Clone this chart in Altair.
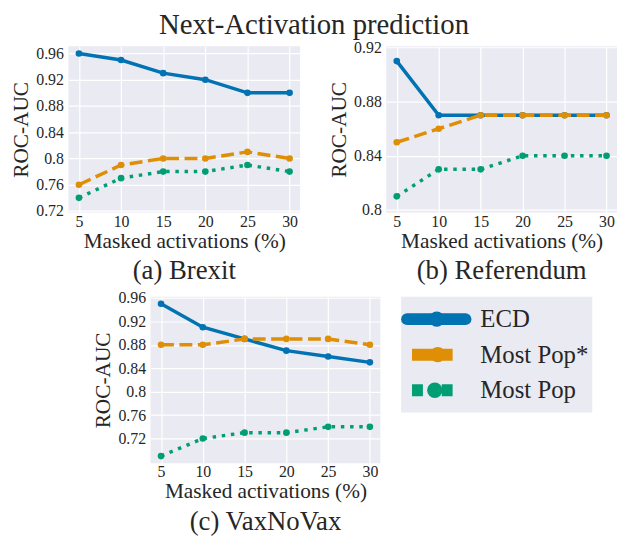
import altair as alt
import pandas as pd

x_vals = [5, 10, 15, 20, 25, 30]
series = ["ECD", "Most Pop*", "Most Pop"]
colors = ["#0173B2", "#DE8F05", "#029E73"]

brexit_ecd = [0.96, 0.95, 0.93, 0.92, 0.90, 0.90]
brexit_mpstar = [0.76, 0.79, 0.80, 0.80, 0.81, 0.80]
brexit_mp = [0.74, 0.77, 0.78, 0.78, 0.79, 0.78]

ref_ecd = [0.91, 0.87, 0.87, 0.87, 0.87, 0.87]
ref_mpstar = [0.85, 0.86, 0.87, 0.87, 0.87, 0.87]
ref_mp = [0.81, 0.83, 0.83, 0.84, 0.84, 0.84]

vax_ecd = [0.95, 0.91, 0.89, 0.87, 0.86, 0.85]
vax_mpstar = [0.88, 0.88, 0.89, 0.89, 0.89, 0.88]
vax_mp = [0.69, 0.72, 0.73, 0.73, 0.74, 0.74]

ticks_a = [0.72, 0.76, 0.80, 0.84, 0.88, 0.92, 0.96]
ticks_b = [0.80, 0.84, 0.88, 0.92]
ticks_c = [0.72, 0.76, 0.80, 0.84, 0.88, 0.92, 0.96]

FONT = "Liberation Serif"
TXT = "#262626"
BG = "#EAEAF2"
dashes = {"ECD": None, "Most Pop*": [13, 5.6], "Most Pop": [3.5, 5.8]}
leg_dashes = {"ECD": None, "Most Pop*": [44, 19], "Most Pop": [11, 19]}
leg_caps = {"ECD": "round", "Most Pop*": "butt", "Most Pop": "butt"}


def panel(vals, caption, ticks, ydomain, w, h):
    layers = []
    for s, c, v in zip(series, colors, vals):
        df = pd.DataFrame({"x": x_vals, "y": v, "series": s})
        base = alt.Chart(df).encode(
            x=alt.X("x:Q", scale=alt.Scale(domain=[3.75, 31.25], nice=False, zero=False),
                    axis=alt.Axis(values=x_vals, title="Masked activations (%)",
                                  labelPadding=1, titlePadding=1)),
            y=alt.Y("y:Q", scale=alt.Scale(domain=ydomain, nice=False, zero=False),
                    axis=alt.Axis(values=ticks, format=".2~f", title="ROC-AUC")),
        )
        lk = dict(color=c, strokeWidth=3.5, strokeCap="round" if s == "ECD" else "butt")
        if dashes[s]:
            lk["strokeDash"] = dashes[s]
        layers.append(base.mark_line(**lk))
        layers.append(base.mark_point(color=c, filled=True, opacity=1, size=45))
    return alt.layer(*layers).properties(
        width=w, height=h,
        view=alt.ViewBackground(fill=BG, stroke=None),
        title=alt.TitleParams(caption, orient="bottom", fontSize=27, offset=7,
                              font=FONT, color=TXT, fontWeight="normal"),
    )


pa = panel([brexit_ecd, brexit_mpstar, brexit_mp], "(a) Brexit", ticks_a, [0.7175, 0.971], 234, 168)
pb = panel([ref_ecd, ref_mpstar, ref_mp], "(b) Referendum", ticks_b, [0.798, 0.921], 233, 168)
pc = panel([vax_ecd, vax_mpstar, vax_mp], "(c) VaxNoVax", ticks_c, [0.678, 0.962], 232, 168)

# legend
leg_df = pd.DataFrame({"series": series, "color": colors})
yenc = alt.Y("series:N", scale=alt.Scale(domain=series, type="point", padding=0.63), axis=None)
leg_layers = []
line_x = {"ECD": (6, 65), "Most Pop*": (11, 52), "Most Pop": (11, 52)}
dot_x = {"ECD": 36, "Most Pop*": 37, "Most Pop": 34}
for s, c in zip(series, colors):
    src = alt.Chart(leg_df).transform_filter(alt.datum.series == s)
    rk = dict(color=c, strokeWidth=12, strokeCap=leg_caps[s])
    if leg_dashes[s]:
        rk["strokeDash"] = leg_dashes[s]
    leg_layers.append(src.mark_rule(**rk).encode(
        x=alt.value(line_x[s][0]), x2=alt.value(line_x[s][1]), y=yenc))
    leg_layers.append(src.mark_point(color=c, filled=True, opacity=1, size=240).encode(
        x=alt.value(dot_x[s]), y=yenc))
leg_layers.append(alt.Chart(leg_df).mark_text(
    align="left", baseline="middle", fontSize=25, font=FONT, color=TXT
).encode(x=alt.value(80), y=yenc, text="series:N"))
legend = alt.layer(*leg_layers).properties(
    width=193, height=117, view=alt.ViewBackground(fill=BG, stroke=None))

spacer = alt.Chart(pd.DataFrame({"a": [0]})).mark_point(opacity=0).properties(
    width=1, height=10, view=alt.ViewBackground(fill=None, stroke=None))

top = alt.hconcat(pa, pb, spacing=29)
bottom = alt.hconcat(spacer, pc, legend, spacing=21)

chart = alt.vconcat(top, bottom, spacing=5).properties(
    title=alt.TitleParams("Next-Activation prediction", fontSize=29, anchor="middle",
                          font=FONT, color=TXT, fontWeight="normal", offset=0),
    padding={"top": 0, "left": 3, "right": 0, "bottom": 0},
).configure(font=FONT).configure_view(stroke=None).configure_axis(
    grid=True, gridColor="white", gridWidth=1.2, domain=False, ticks=False,
    labelFontSize=16, titleFontSize=21.5, titleFontWeight="normal",
    labelColor=TXT, titleColor=TXT, labelFont=FONT, titleFont=FONT,
    labelPadding=5, titlePadding=3,
)

chart.save("out.html", embed_options={"renderer": "svg", "actions": False})
